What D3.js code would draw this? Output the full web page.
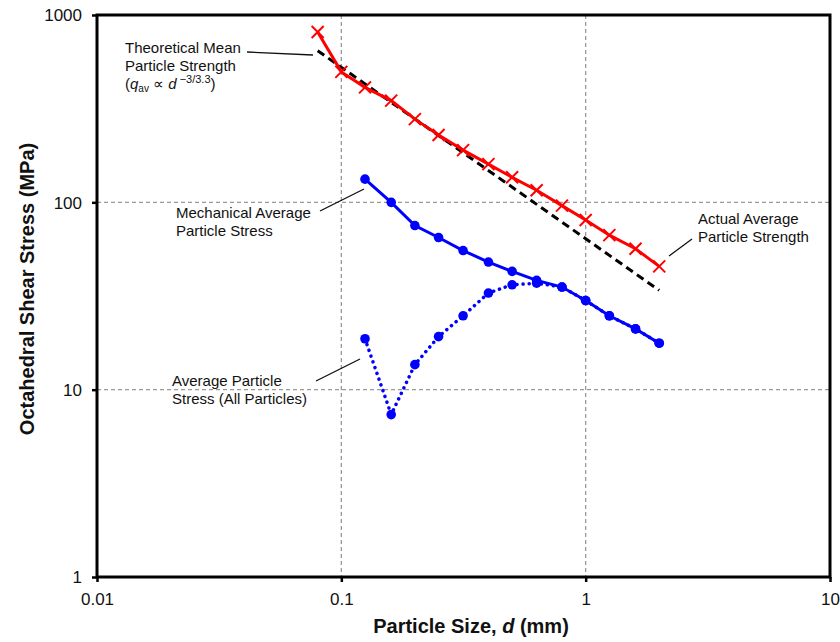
<!DOCTYPE html>
<html><head><meta charset="utf-8">
<script src="https://cdn.jsdelivr.net/npm/d3@7"></script>
<style>body{margin:0;background:#fff}text{font-family:"Liberation Sans",Arial,sans-serif}</style>
</head><body><svg id="c" width="840" height="642"></svg>
<script>
const sizes = [0.08,0.1,0.125,0.16,0.2,0.25,0.315,0.4,0.5,0.63,0.8,1,1.25,1.6,2];
const actualStrength = [811,497,411,349,278,229,190,160,136,116,96,80.4,66.8,56.5,45.5];
const mechSizes = [0.125,0.16,0.2,0.25,0.315,0.4,0.5,0.63,0.8,1,1.25,1.6,2];
const mechStress = [133,100,75.2,64.9,55.3,48,42.8,38.3,35.3,29.9,24.8,21.1,17.7];
const allStress = [18.7,7.36,13.6,19.2,24.8,32.8,36.3,37,35.3,29.9,24.8,21.1,17.7];
const theorySizes = [0.08,2];
const theoryStrength = [645,33.9];
const xTicks = [0.01,0.1,1,10];
const yTicks = [1,10,100,1000];
const xTickLabels = ["0.01","0.1","1","10"];
const yTickLabels = ["1","10","100","1000"];

const svg = d3.select("#c");
const L=97,R=830,T=15,B=577;
const x = d3.scaleLog().domain([0.01,10]).range([L,R]);
const y = d3.scaleLog().domain([1,1000]).range([B,T]);

// grid
const g = svg.append("g");
[0.1,1].forEach(v=>g.append("line").attr("x1",x(v)).attr("x2",x(v)).attr("y1",T).attr("y2",B)
  .attr("stroke","#999").attr("stroke-width",1.3).attr("stroke-dasharray","4,3"));
[10,100].forEach(v=>g.append("line").attr("x1",L).attr("x2",R).attr("y1",y(v)).attr("y2",y(v))
  .attr("stroke","#999").attr("stroke-width",1.3).attr("stroke-dasharray","4,3"));

// axes
const xa = svg.append("g").attr("transform",`translate(0,${B})`)
  .call(d3.axisBottom(x).tickValues(xTicks).tickFormat((d,i)=>xTickLabels[i]).tickSize(5).tickPadding(11));
const ya = svg.append("g").attr("transform",`translate(${L},0)`)
  .call(d3.axisLeft(y).tickValues(yTicks).tickFormat((d,i)=>yTickLabels[i]).tickSize(5).tickPadding(10));
[xa,ya].forEach(a=>{a.select(".domain").remove();a.selectAll("line").attr("stroke","#000").attr("stroke-width",2.5);
  a.selectAll("text").attr("font-size",17).attr("fill","#111").style("font-family","'Liberation Sans',Arial,sans-serif");});
ya.selectAll("text").attr("dy","0.35em");
svg.append("rect").attr("x",L).attr("y",T).attr("width",R-L).attr("height",B-T)
  .attr("fill","none").attr("stroke","#000").attr("stroke-width",3);

// theory dashed
svg.append("path").datum(theorySizes.map((d,i)=>[d,theoryStrength[i]]))
  .attr("d",d3.line().x(d=>x(d[0])).y(d=>y(d[1])))
  .attr("fill","none").attr("stroke","#000").attr("stroke-width",3).attr("stroke-dasharray","8,5");

// all particles dotted
const allData = mechSizes.map((d,i)=>[d,allStress[i]]);
svg.append("path").datum(allData).attr("d",d3.line().x(d=>x(d[0])).y(d=>y(d[1])))
  .attr("fill","none").attr("stroke","#0000ff").attr("stroke-width",3.5)
  .attr("stroke-dasharray","0.1,6").attr("stroke-linecap","round");
svg.selectAll(".ad").data(allData).enter().append("circle")
  .attr("cx",d=>x(d[0])).attr("cy",d=>y(d[1])).attr("r",4.8).attr("fill","#0000ff");

// mech solid
const mechData = mechSizes.map((d,i)=>[d,mechStress[i]]);
svg.append("path").datum(mechData).attr("d",d3.line().x(d=>x(d[0])).y(d=>y(d[1])))
  .attr("fill","none").attr("stroke","#0000ff").attr("stroke-width",3);
svg.selectAll(".md").data(mechData).enter().append("circle")
  .attr("cx",d=>x(d[0])).attr("cy",d=>y(d[1])).attr("r",4.8).attr("fill","#0000ff");

// red actual
const actData = sizes.map((d,i)=>[d,actualStrength[i]]);
svg.append("path").datum(actData).attr("d",d3.line().x(d=>x(d[0])).y(d=>y(d[1])))
  .attr("fill","none").attr("stroke","#ff0000").attr("stroke-width",3);
const s=6;
actData.forEach(d=>{
  const cx=x(d[0]),cy=y(d[1]);
  svg.append("path").attr("d",`M${cx-s},${cy-s}L${cx+s},${cy+s}M${cx-s},${cy+s}L${cx+s},${cy-s}`)
    .attr("stroke","#ff0000").attr("stroke-width",2);
});

// annotations
function label(lines,x0,y0){
  const t=svg.append("text").attr("font-size",15).attr("fill","#111");
  lines.forEach((l,i)=>t.append("tspan").attr("x",x0).attr("y",y0+i*18).text(l));
  return t;
}
function leader(x1,y1,x2,y2){svg.append("line").attr("x1",x1).attr("y1",y1).attr("x2",x2).attr("y2",y2).attr("stroke","#111").attr("stroke-width",1.3);}
label(["Theoretical Mean","Particle Strength"],125,53);
const f=svg.append("text").attr("x",125).attr("y",89).attr("font-size",15).attr("fill","#111");
f.append("tspan").text("(");
f.append("tspan").attr("font-style","italic").text("q");
f.append("tspan").attr("font-size",10).attr("dy",3).text("av");
f.append("tspan").attr("dy",-3).text(" \u221D ");
f.append("tspan").attr("font-style","italic").text("d");
f.append("tspan").attr("font-size",11).attr("dy",-6).text(" \u22123/3.3");
f.append("tspan").attr("dy",6).text(")");
leader(247,52,313,55);
label(["Mechanical Average","Particle Stress"],176,218);
leader(320,211,364,189);
label(["Actual Average","Particle Strength"],698,224);
leader(669,256,692,239);
label(["Average Particle","Stress (All Particles)"],172,386);
leader(316,381,360,359);

// axis titles
const xt=svg.append("text").attr("x",471).attr("y",633).attr("text-anchor","middle")
  .attr("font-size",20).attr("font-weight","bold").attr("fill","#111");
xt.append("tspan").text("Particle Size, ");
xt.append("tspan").attr("font-style","italic").text("d");
xt.append("tspan").text(" (mm)");
svg.append("text").attr("transform","translate(34,289) rotate(-90)").attr("text-anchor","middle")
  .attr("font-size",20).attr("font-weight","bold").attr("fill","#111").text("Octahedral Shear Stress (MPa)");
</script></body></html>
